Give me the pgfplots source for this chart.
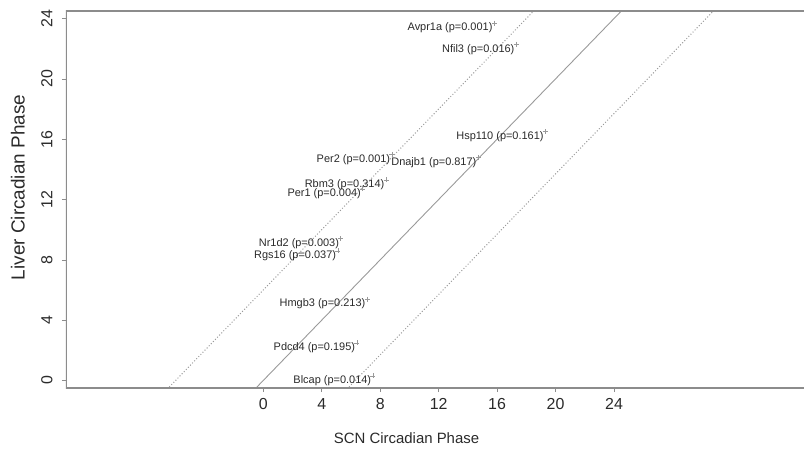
\documentclass[border=0pt]{standalone}
\usepackage{fontspec}
\setmainfont{Liberation Sans}
\usepackage{pgfplots}
\pgfplotsset{compat=1.18}
\usepackage{pgfplotstable}

\pgfplotstableread[col sep=comma]{
x,y,label
15.8,23.7,Avpr1a (p=0.001)
17.3,22.3,Nfil3 (p=0.016)
19.3,16.5,Hsp110 (p=0.161)
8.8,15.0,Per2 (p=0.001)
14.7,14.8,Dnajb1 (p=0.817)
8.4,13.3,Rbm3 (p=0.314)
6.8,12.7,Per1 (p=0.004)
5.3,9.4,Nr1d2 (p=0.003)
5.1,8.6,Rgs16 (p=0.037)
7.1,5.4,Hmgb3 (p=0.213)
6.4,2.5,Pdcd4 (p=0.195)
7.5,0.3,Blcap (p=0.014)
}\genes

\definecolor{axgray}{HTML}{8C8C8C}
\definecolor{lngray}{HTML}{9A9A9A}
\definecolor{txt}{HTML}{2A2A2A}

\begin{document}
\begin{tikzpicture}
\path[use as bounding box] (-66bp,-67bp) rectangle (738bp,388bp);
\begin{axis}[
  at={(0,0)}, anchor=south west,
  scale only axis, width=738bp, height=377bp,
  xmin=-13.5, xmax=37, ymin=-0.5, ymax=24.5,
  axis line style={draw=none},
  xtick={0,4,...,24}, ytick={0,4,...,24},
  tick pos=left, tick align=outside,
  major tick length=4bp,
  tick style={axgray, line width=0.6bp},
  /pgf/number format/assume math mode=true,
  ticklabel style={font=\fontsize{16}{19}\selectfont, text=txt},
  yticklabel style={rotate=90, anchor=south},
  yticklabel shift=6bp,
  xticklabel shift=3bp,
  xlabel={SCN Circadian Phase},
  ylabel={Liver Circadian Phase},
  xlabel style={font=\fontsize{15}{18}\selectfont, text=txt, at={(axis cs:9.8,-0.5)}, anchor=center, yshift=-50bp},
  ylabel style={font=\fontsize{19}{22}\selectfont, text=txt, at={(axis cs:-16.8,12.8)}, anchor=center},
  clip=true,
]
\addplot[lngray, line width=0.9bp] coordinates {(-2,-2) (26,26)};
\addplot[lngray, line width=1bp, dotted] coordinates {(-8,-2) (20,26)};
\addplot[lngray, line width=1bp, dotted] coordinates {(4.3,-2) (32.3,26)};
\addplot[only marks, mark=+, mark size=2.5bp, lngray, mark options={line width=0.5bp},
  nodes near coords, point meta=explicit symbolic,
  every node near coord/.style={anchor=east, inner sep=0pt, xshift=-1.5bp, yshift=-5bp,
     font=\fontsize{11}{13}\selectfont, text=txt}]
  table[x=x, y=y, meta=label] {\genes};
\draw[axgray, line width=1.2bp] (rel axis cs:1,1) -- (rel axis cs:0,1) -- (rel axis cs:0,0) -- (rel axis cs:1,0);
\end{axis}
\end{tikzpicture}
\end{document}
